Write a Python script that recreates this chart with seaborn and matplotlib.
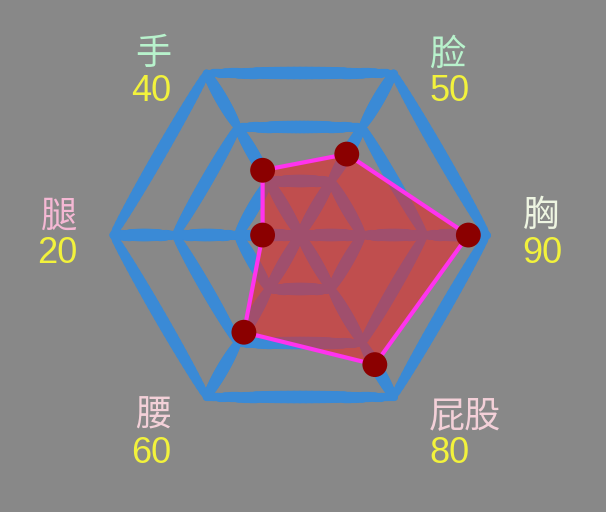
import numpy as np
import pandas as pd
import matplotlib
matplotlib.use("Agg")
import matplotlib.pyplot as plt
import seaborn as sns
from matplotlib.collections import LineCollection

# radar data, counter-clockwise starting from the right
names = ['胸', '脸', '手', '腿', '腰', '屁股']
values = [90, 50, 40, 20, 60, 80]
name_colors = ['#eef5e2', '#b8f2cc', '#b8f2cc', '#f5b8d4', '#f3d0d8', '#f3d0d8']
max_value = 100
levels = 3

sns.set_style('white')
plt.rcParams['font.family'] = ['Noto Sans CJK SC', 'DejaVu Sans']

bg = '#888888'
blue = '#3a8ad6'

fig = plt.figure(figsize=(6.06, 5.12), dpi=100, facecolor=bg)
ax = fig.add_axes([0, 0, 1, 1])
ax.set_facecolor(bg)

n = len(names)
angles = np.deg2rad(np.arange(n) * 360 / n)


def tapered(p0, p1, w0=4.0, w1=9.0, steps=30):
    # brush-like stroke: thinner at the ends, thick in the middle
    t = np.linspace(0, 1, steps + 1)
    pts = np.outer(1 - t, p0) + np.outer(t, p1)
    segs = np.stack([pts[:-1], pts[1:]], axis=1)
    mid = (t[:-1] + t[1:]) / 2
    widths = w0 + (w1 - w0) * np.sin(np.pi * mid) ** 0.5
    return list(segs), list(widths)


all_segs, all_widths = [], []
ring_r = [max_value * k / levels for k in range(1, levels + 1)]
for r in ring_r:
    pts = np.column_stack([r * np.cos(angles), r * np.sin(angles)])
    for i in range(n):
        s, w = tapered(pts[i], pts[(i + 1) % n])
        all_segs += s
        all_widths += w
for a in angles:
    d = np.array([np.cos(a), np.sin(a)])
    prev = 0
    for r in ring_r:
        s, w = tapered(d * prev, d * r)
        all_segs += s
        all_widths += w
        prev = r

grid = LineCollection(all_segs, linewidths=all_widths, colors=blue,
                      capstyle='round', zorder=1)
ax.add_collection(grid)

df = pd.DataFrame({'name': names, 'value': values})
df['x'] = df['value'] * np.cos(angles)
df['y'] = df['value'] * np.sin(angles)

ax.fill(df['x'], df['y'], color='#e62828', alpha=0.6, lw=0, zorder=2)
ax.plot(np.append(df['x'], df['x'][0]), np.append(df['y'], df['y'][0]),
        color='#ff33ee', lw=3, zorder=3)
sns.scatterplot(data=df, x='x', y='y', s=320, color='#8b0000',
                edgecolor='none', zorder=4, ax=ax, legend=False)
ax.set_xlim(-160.4, 163.6)
ax.set_ylim(-148.1, 125.7)
ax.axis('off')

# axis names and values
for i, a in enumerate(angles):
    vx, vy = max_value * np.cos(a), max_value * np.sin(a)
    sgn = 1 if np.cos(a) > 0 else -1
    x = vx + 19 * sgn
    ha = 'left' if sgn > 0 else 'right'
    shift = -20 if np.sin(a) < -0.01 else 0
    ax.text(x, vy + 10 + shift, names[i], color=name_colors[i], fontsize=26,
            ha=ha, va='center')
    ax.text(x, vy - 10 + shift, str(values[i]), color='#f2f23c', fontsize=26,
            ha=ha, va='center', family=['Liberation Sans', 'DejaVu Sans'])

fig.savefig('out.png', dpi=100, facecolor=bg)
